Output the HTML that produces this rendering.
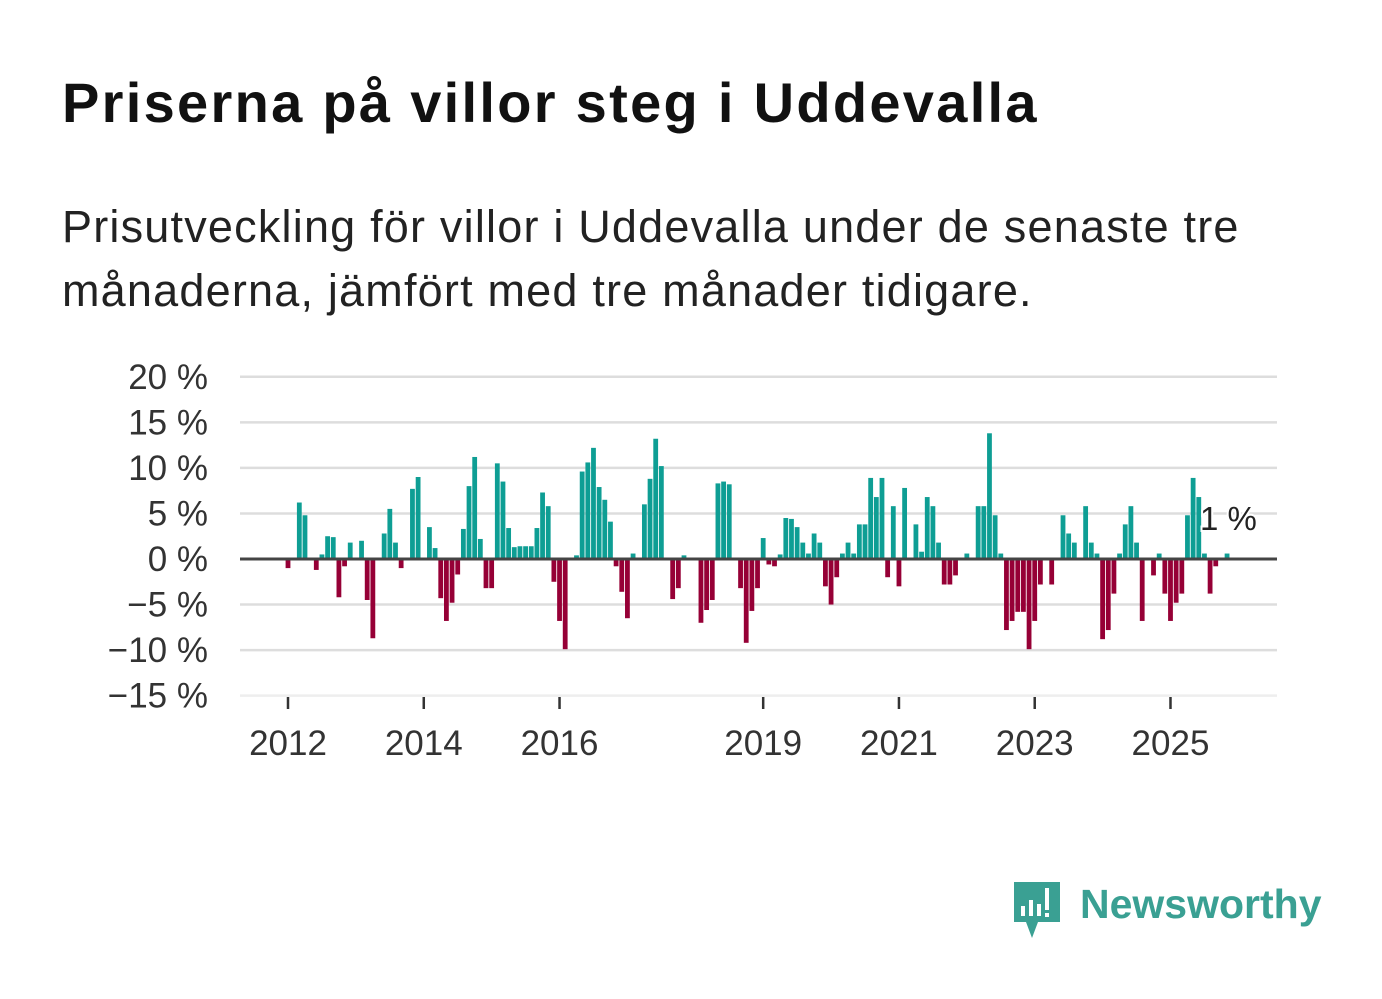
<!DOCTYPE html>
<html><head><meta charset="utf-8"><style>
body{margin:0;background:#fff;width:1382px;height:999px;overflow:hidden;font-family:"Liberation Sans",sans-serif}
h1{position:absolute;left:62px;top:70px;margin:0;font-size:56px;font-weight:bold;color:#111;letter-spacing:2.3px;white-space:nowrap}
p{position:absolute;left:62px;top:195px;margin:0;font-size:45px;line-height:64px;color:#222;width:1250px;letter-spacing:1.2px}
svg{position:absolute;left:0;top:0}
</style></head><body>
<h1>Priserna på villor steg i Uddevalla</h1>
<p>Prisutveckling för villor i Uddevalla under de senaste tre månaderna, jämfört med tre månader tidigare.</p>
<svg id="chart" width="1382" height="999"></svg>
<script>
const startYear = 2012;
const values = [-1,0,6.2,4.8,0,-1.2,0.5,2.5,2.4,-4.2,-0.8,1.8,0,2.0,-4.5,-8.7,0,2.8,5.5,1.8,-1,0,7.7,9.0,0,3.5,1.2,-4.3,-6.8,-4.8,-1.7,3.3,8,11.2,2.2,-3.2,-3.2,10.5,8.5,3.4,1.3,1.4,1.4,1.4,3.4,7.3,5.8,-2.5,-6.8,-9.9,0,0.4,9.6,10.6,12.2,7.9,6.5,4.1,-0.8,-3.6,-6.5,0.6,0,6,8.8,13.2,10.2,0,-4.4,-3.2,0.4,0,0,-7,-5.6,-4.5,8.3,8.5,8.2,0,-3.2,-9.2,-5.7,-3.2,2.3,-0.6,-0.8,0.5,4.5,4.4,3.5,1.8,0.6,2.8,1.8,-3,-5,-2,0.6,1.8,0.6,3.8,3.8,8.9,6.8,8.9,-2,5.8,-3,7.8,0,3.8,0.8,6.8,5.8,1.8,-2.8,-2.8,-1.8,0,0.6,0,5.8,5.8,13.8,4.8,0.6,-7.8,-6.8,-5.8,-5.8,-9.9,-6.8,-2.8,0,-2.8,0,4.8,2.8,1.8,0,5.8,1.8,0.6,-8.8,-7.8,-3.8,0.6,3.8,5.8,1.8,-6.8,0,-1.8,0.6,-3.8,-6.8,-4.8,-3.8,4.8,8.9,6.8,0.6,-3.8,-0.8,0,0.6];
const yTicks = [20,15,10,5,0,-5,-10,-15];
const yearTicks = [2012,2014,2016,2019,2021,2023,2025];
const lastLabel = "1 %";
const NS="http://www.w3.org/2000/svg", svg=document.getElementById('chart');
const y = v => 559 - v*9.11;
const x = i => 288 + i*5.657;
const xYear = yr => x((yr-startYear)*12);
function mk(t,a){const e=document.createElementNS(NS,t);for(const k in a)e.setAttribute(k,a[k]);svg.appendChild(e);return e;}
yTicks.forEach(t=>{
  const g=mk('line',{x1:240,x2:1277,y1:y(t),y2:y(t),stroke:t===0?'#444':(t===-15?'#eee':'#ddd'),'stroke-width':t===0?3:2.5});
  
  
  const l=mk('text',{x:208,y:y(t)+12,'text-anchor':'end','font-size':35,fill:'#333','font-family':'Liberation Sans, sans-serif'});
  l.textContent=(t<0?'\u2212'+(-t):t)+' %';
  
  
});
values.forEach((v,i)=>{
  if(v===0)return;
  const r=mk('rect',{x:x(i)-2.4,width:4.8,y:Math.min(y(v),y(0)),height:Math.abs(y(v)-y(0)),fill:v>0?'#0e9e94':'#960036'});
  
  
});
mk('line',{x1:240,x2:1277,y1:y(0),y2:y(0),stroke:'#444','stroke-width':3});
yearTicks.forEach(yr=>{
  const t=mk('line',{x1:xYear(yr),x2:xYear(yr),y1:697,y2:709,stroke:'#333','stroke-width':2.5});
  
  
  const l=mk('text',{x:xYear(yr),y:755,'text-anchor':'middle','font-size':35,fill:'#333','font-family':'Liberation Sans, sans-serif'});
  l.textContent=yr;
  
  
});
const ll=mk('text',{x:1200,y:530,'font-size':33,fill:'#222',stroke:'#fff','stroke-width':4,'paint-order':'stroke','font-family':'Liberation Sans, sans-serif'});
ll.textContent=lastLabel;


</script>
<svg width="1382" height="999" style="pointer-events:none">
<path d="M1014 882 h46 v40 h-22 l-6 16 l-6 -16 h-12 z" fill="#3aa093"/>
<rect x="1021" y="906" width="4" height="10" fill="#fff"/><rect x="1029" y="900" width="4" height="16" fill="#fff"/><rect x="1037" y="904" width="4" height="12" fill="#fff"/><rect x="1045" y="888" width="4" height="22" fill="#fff"/><rect x="1045" y="913" width="4" height="4" fill="#fff"/>
<text x="1080" y="918" font-size="41" font-weight="bold" fill="#3aa093" font-family="Liberation Sans, sans-serif">Newsworthy</text>
</svg>
</body></html>
